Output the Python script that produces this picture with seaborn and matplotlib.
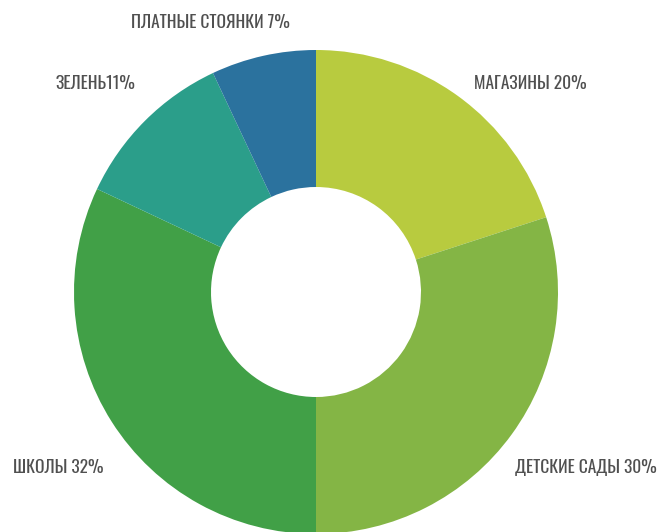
import matplotlib
matplotlib.use("Agg")
import matplotlib.pyplot as plt
import seaborn as sns

# Shares of the district's infrastructure, clockwise from the top
categories = ["МАГАЗИНЫ", "ДЕТСКИЕ САДЫ", "ШКОЛЫ", "ЗЕЛЕНЬ", "ПЛАТНЫЕ СТОЯНКИ"]
shares = [20, 30, 32, 11, 7]
label_fmt = ["{} {}%", "{} {}%", "{} {}%", "{}{}%", "{} {}%"]
colors = ["#B8CB3F", "#84B545", "#41A047", "#2B9E8A", "#2B729E"]

sns.set_theme(style="white")
plt.rcParams["font.family"] = ["Oswald", "DejaVu Sans"]

W, H = 658, 532
fig = plt.figure(figsize=(W / 100, H / 100), dpi=100)
ax = fig.add_axes([0, 0, 1, 1])

palette = sns.color_palette(colors)
cx, cy, r = 316, H - 292, 242
ax.pie(shares, colors=palette, startangle=90, counterclock=False,
       center=(cx, cy), radius=r, frame=True,
       wedgeprops=dict(width=r - 105, linewidth=0))
ax.set_xlim(0, W)
ax.set_ylim(0, H)
ax.set_aspect("equal")
ax.axis("off")

# label anchors (left edge, vertical centre) in pixel space
anchors = [(474, H - 82), (515, H - 466), (13, H - 466), (56, H - 82), (131, H - 21)]
for name, val, fmt, (x, y) in zip(categories, shares, label_fmt, anchors):
    ax.text(x, y, fmt.format(name, val), ha="left", va="center_baseline",
            fontsize=12.5, fontweight="medium", color="#505050")

fig.savefig("out.png", dpi=100)
